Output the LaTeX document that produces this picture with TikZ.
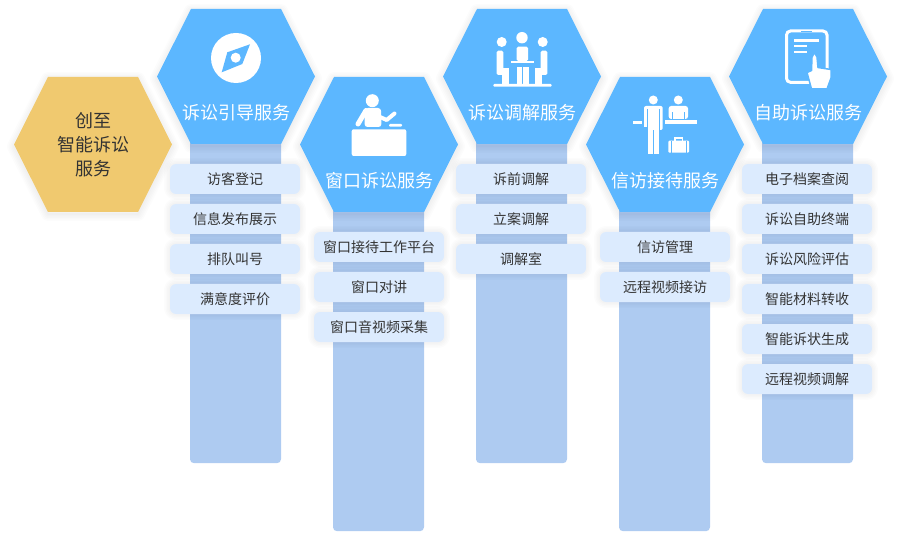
\documentclass[tikz,border=0pt]{standalone}
\usepackage{fontspec}
\setmainfont{Noto Sans CJK SC}
\definecolor{hexblue}{HTML}{5CB7FF}
\definecolor{hexgold}{HTML}{F0C96F}
\definecolor{colblue}{HTML}{AECBF1}
\definecolor{boxblue}{HTML}{DCEBFE}
\definecolor{inktext}{HTML}{333333}
\tikzset{
  column/.style={fill=colblue, rounded corners=4pt, minimum width=91pt, inner sep=0pt, anchor=north},
  softedge/.style={draw=black, draw opacity=0.012, fill=none, line join=round},
  itembox/.style={fill=boxblue, rounded corners=6pt, minimum width=130pt, minimum height=30pt, inner sep=0pt,
    text=inktext, font=\fontsize{14}{16}\selectfont,
    preaction={softedge, line width=12pt, yshift=-2pt},
    preaction={softedge, line width=9pt, yshift=-2pt},
    preaction={softedge, line width=6pt, yshift=-2pt},
    preaction={softedge, line width=3pt, yshift=-2pt}},
  hexlabel/.style={text=white, font=\fontsize{18}{24}\selectfont, inner sep=0pt, align=center},
  icon/.style={fill=white, draw=none},
  iconline/.style={draw=white, line cap=round, line join=round}
}
% centre x, centre y, colour
\newcommand{\hexagon}[3]{
  \foreach \w in {14,11,8,5,2} {
    \path[softedge, line width=\w pt, shift={(#1,#2+2)}]
      (-79,0) -- (-45,-67.5) -- (45,-67.5) -- (79,0) -- (45,67.5) -- (-45,67.5) -- cycle;
  }
  \path[fill=#3, shift={(#1,#2)}]
    (-79,0) -- (-45,-67.5) -- (45,-67.5) -- (79,0) -- (45,67.5) -- (-45,67.5) -- cycle;
}
\begin{document}
\begin{tikzpicture}[x=1pt, y=-1pt]
  \useasboundingbox (0,0) rectangle (901,534);
  % columns
  \node[column, minimum height=329pt] (col1) at (235.5,134) {};
  \node[column, minimum height=329pt] (col2) at (378.5,202) {};
  \node[column, minimum height=329pt] (col3) at (521.5,134) {};
  \node[column, minimum height=329pt] (col4) at (664.5,202) {};
  \node[column, minimum height=329pt] (col5) at (807.5,134) {};
  % hexagons
  \hexagon{93}{144.5}{hexgold}
  \hexagon{236}{76.5}{hexblue}
  \hexagon{379}{144.5}{hexblue}
  \hexagon{522}{76.5}{hexblue}
  \hexagon{665}{144.5}{hexblue}
  \hexagon{808}{76.5}{hexblue}
  \node[hexlabel, text=inktext, text width=90pt] (start) at (93,145) {\fontsize{18}{24}\selectfont 创至\\智能诉讼\\服务};
  \node[hexlabel] (guide) at (236.3,112.7) {诉讼引导服务};
  \node[hexlabel] (window) at (379,180.7) {窗口诉讼服务};
  \node[hexlabel] (mediate) at (522.3,112.7) {诉讼调解服务};
  \node[hexlabel] (petition) at (665.5,180.7) {信访接待服务};
  \node[hexlabel] (self) at (808,112.7) {自助诉讼服务};
  % items
  \node[itembox] (g1) at (235,179) {访客登记};
  \node[itembox] (g2) at (235,219) {信息发布展示};
  \node[itembox] (g3) at (235,259) {排队叫号};
  \node[itembox] (g4) at (235,299) {满意度评价};
  \node[itembox] (w1) at (379,247) {窗口接待工作平台};
  \node[itembox] (w2) at (379,287) {窗口对讲};
  \node[itembox] (w3) at (379,327) {窗口音视频采集};
  \node[itembox] (m1) at (521,179) {诉前调解};
  \node[itembox] (m2) at (521,219) {立案调解};
  \node[itembox] (m3) at (521,259) {调解室};
  \node[itembox] (p1) at (665,247) {信访管理};
  \node[itembox] (p2) at (665,287) {远程视频接访};
  \node[itembox] (s1) at (807,179) {电子档案查阅};
  \node[itembox] (s2) at (807,219) {诉讼自助终端};
  \node[itembox] (s3) at (807,259) {诉讼风险评估};
  \node[itembox] (s4) at (807,299) {智能材料转收};
  \node[itembox] (s5) at (807,339) {智能诉状生成};
  \node[itembox] (s6) at (807,379) {远程视频调解};
  % compass icon
  \fill[icon] (236,58) circle (25);
  \fill[hexblue] (250,44.3) -- (227.3,52.3) -- (221.7,72.3) -- (242.3,64) -- cycle;
  \fill[icon] (235.7,57.7) circle (5);
  % desk icon
  \fill[icon] (372.3,100.7) circle (6.5);
  \fill[icon, rounded corners=3pt] (365,108) -- (381,108) -- (381.5,127) -- (364.5,127) -- cycle;
  \draw[iconline, line width=5pt] (366,110.5) -- (358,124);
  \draw[iconline, line width=4pt] (380,117) -- (386.7,120) -- (394.5,113.5);
  \fill[icon, rounded corners=1pt] (389,124) rectangle (402,126.7);
  \fill[icon, rounded corners=2pt] (351.7,129.3) rectangle (406.3,156);
  % meeting icon
  \fill[icon] (522,37.7) circle (5.7);
  \fill[icon] (501.7,42) circle (5);
  \fill[icon] (542.7,42) circle (5);
  \fill[icon, rounded corners=1.5pt] (516.7,46.7) rectangle (528,61);
  \fill[icon] (511,61) rectangle (534,63.3);
  \fill[icon] (517.3,66.7) rectangle (522,84);
  \fill[icon] (523.3,66.7) rectangle (528.7,84);
  \fill[icon, rounded corners=1.5pt] (496.7,50.7) rectangle (503.3,75);
  \fill[icon] (500,68) rectangle (509,75);
  \fill[icon] (502,70) rectangle (509,84);
  \fill[icon, rounded corners=1.5pt] (540.7,50.7) rectangle (547.3,75);
  \fill[icon] (535,68) rectangle (544,75);
  \fill[icon] (535,70) rectangle (542,84);
  \fill[icon, rounded corners=1pt] (493.3,84) rectangle (551.7,86.7);
  % reception icon
  \fill[icon] (653.3,100) circle (4.5);
  \fill[icon] (678.3,100) circle (4.5);
  \fill[icon, rounded corners=2pt] (644,106) rectangle (662.7,130);
  \fill[hexblue] (646.8,109) rectangle (647.7,131);
  \fill[hexblue] (659.3,109) rectangle (660.2,131);
  \fill[hexblue] (644,127) rectangle (647.7,131);
  \fill[icon] (647.7,125) rectangle (652.5,154.5);
  \fill[icon] (654,125) rectangle (659.3,154.5);
  \fill[icon] (633,120.7) rectangle (642.3,124.3);
  \fill[icon, rounded corners=2.5pt] (668.7,119) -- (668.7,106) -- (688,106) -- (688,119) -- cycle;
  \fill[hexblue] (671.5,112) rectangle (672.3,119.2);
  \fill[hexblue] (684.4,112) rectangle (685.2,119.2);
  \fill[icon] (665,120) rectangle (697,124);
  \fill[icon, rounded corners=1pt] (668.3,140.7) rectangle (689,152.7);
  \draw[white, line width=1.2pt] (675,141) -- (675,138) -- (682.5,138) -- (682.5,141);
  \fill[hexblue] (670.5,140.7) rectangle (671.3,152.7);
  \fill[hexblue] (685.8,140.7) rectangle (686.6,152.7);
  % tablet icon
  \draw[white, line width=3pt, rounded corners=4pt] (786.5,31) rectangle (827,82.3);
  \fill[hexblue] (801,31.2) rectangle (812,32.4);
  \fill[icon] (794,39.3) rectangle (819.3,41.7);
  \fill[icon] (794,45) rectangle (806.7,47.3);
  \fill[icon] (794,50.7) rectangle (806.7,53.3);
  \path[fill=white, draw=hexblue, line width=1.5pt, line join=round]
    (811.5,89) -- (807,72.5) -- (811.5,70.5) -- (812,57) -- (814.5,52.5) -- (817,57) -- (818,67.5)
    -- (831,69.5) -- (831,78) -- (827,89) -- cycle;
\end{tikzpicture}
\end{document}
